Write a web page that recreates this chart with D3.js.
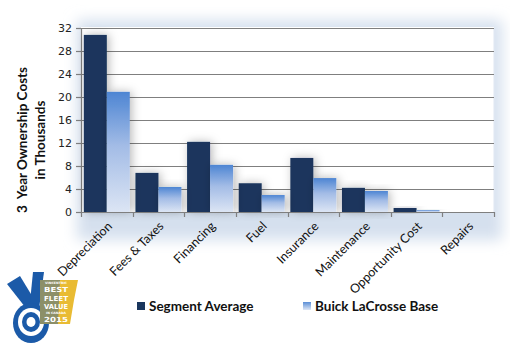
<!DOCTYPE html>
<html><head><meta charset="utf-8">
<script src="https://cdn.jsdelivr.net/npm/d3@7"></script>
<style>html,body{margin:0;padding:0;background:#fff;}svg{display:block;}</style>
</head><body>
<svg id="c" width="510" height="350"></svg>
<script>
const categories = ["Depreciation","Fees & Taxes","Financing","Fuel","Insurance","Maintenance","Opportunity Cost","Repairs"];
const segmentAverage = [30.8, 6.8, 12.2, 5.0, 9.4, 4.2, 0.7, 0];
const buickLaCrosse = [20.9, 4.35, 8.2, 2.95, 5.9, 3.65, 0.35, 0];
const yTicks = [0,4,8,12,16,20,24,28,32];
const seriesNames = ["Segment Average","Buick LaCrosse Base"];

const svg = d3.select("#c");
const defs = svg.append("defs");
const grad = defs.append("linearGradient").attr("id","lg").attr("x1",0).attr("y1",0).attr("x2",0).attr("y2",1);
grad.append("stop").attr("offset","0%").attr("stop-color","#4d85d3");
grad.append("stop").attr("offset","45%").attr("stop-color","#a3bce6");
grad.append("stop").attr("offset","100%").attr("stop-color","#dce5f4");
const lgLeg = defs.append("linearGradient").attr("id","lgl").attr("x1",0).attr("y1",0).attr("x2",0).attr("y2",1);
lgLeg.append("stop").attr("offset","0%").attr("stop-color","#5a8ed6");
lgLeg.append("stop").attr("offset","100%").attr("stop-color","#dfe7f5");
const glow = defs.append("filter").attr("id","glow").attr("x","-20%").attr("y","-30%").attr("width","140%").attr("height","160%");
glow.append("feGaussianBlur").attr("stdDeviation",7);
const bs = defs.append("filter").attr("id","bs").attr("x","-60%").attr("y","-30%").attr("width","220%").attr("height","160%");
bs.append("feDropShadow").attr("dx",2).attr("dy",0).attr("stdDeviation",5).attr("flood-color","#000").attr("flood-opacity",0.28);

const L=81, R=494, T=28, B=212;
const x = d3.scaleBand().domain(categories).range([L,R]).padding(0);
const y = d3.scaleLinear().domain([0,32]).range([B,T]);
const bw = x.bandwidth()*0.445;
const off = (x.bandwidth()-2*bw)/2;

// plot area glow
svg.append("rect").attr("x",L-4).attr("y",T-8).attr("width",R-L+12).attr("height",B-T+36)
  .attr("fill","#d5e0ee").attr("filter","url(#glow)");
svg.append("rect").attr("x",L).attr("y",T-1).attr("width",R-L).attr("height",B-T+1).attr("fill","#fff");
svg.append("line").attr("x1",R+0.5).attr("x2",R+0.5).attr("y1",T).attr("y2",B+6).attr("stroke","#dfe7f2").attr("stroke-width",2);

// gridlines
svg.append("g").selectAll("line").data(yTicks.filter(d=>d>0)).join("line")
  .attr("x1",L-5).attr("x2",R).attr("y1",d=>Math.round(y(d))+0.5).attr("y2",d=>Math.round(y(d))+0.5)
  .attr("stroke","#7f7f7f").attr("stroke-width",1.2);

// y axis
const ya = svg.append("g").attr("transform",`translate(${L},0)`)
  .call(d3.axisLeft(y).tickValues(yTicks).tickSize(5).tickPadding(4));
ya.select(".domain").attr("stroke","#7f7f7f").attr("stroke-width",1.2);
ya.selectAll(".tick line").attr("stroke","#7f7f7f").attr("stroke-width",1.2);
ya.selectAll("text").attr("font-family","DejaVu Sans").attr("font-size",11).attr("fill","#222");

// bars
const g = svg.append("g");
g.selectAll("rect.s1").data(categories).join("rect").attr("class","s1")
  .attr("x",d=>x(d)+off).attr("width",bw)
  .attr("y",(d,i)=>y(segmentAverage[i])).attr("height",(d,i)=>B-y(segmentAverage[i]))
  .attr("fill","#1a365d").attr("filter",(d,i)=>segmentAverage[i]>0?"url(#bs)":null);
g.selectAll("rect.s2").data(categories).join("rect").attr("class","s2")
  .attr("x",d=>x(d)+off+bw).attr("width",bw)
  .attr("y",(d,i)=>y(buickLaCrosse[i])).attr("height",(d,i)=>B-y(buickLaCrosse[i]))
  .attr("fill","url(#lg)").attr("filter",(d,i)=>buickLaCrosse[i]>0?"url(#bs)":null);

// x axis
const xa = svg.append("g").attr("transform",`translate(0,${B})`);
xa.append("line").attr("x1",L).attr("x2",R).attr("y1",0.5).attr("y2",0.5).attr("stroke","#7f7f7f").attr("stroke-width",1.2);
const bounds = categories.map(c=>x(c)).concat([R]);
xa.selectAll("line.t").data(bounds).join("line").attr("class","t")
  .attr("x1",d=>Math.round(d)+0.5).attr("x2",d=>Math.round(d)+0.5).attr("y1",0).attr("y2",5)
  .attr("stroke","#7f7f7f").attr("stroke-width",1.2);
xa.selectAll("text").data(categories).join("text")
  .attr("transform",d=>`translate(${x(d)+x.bandwidth()/2+6},${15}) rotate(-45)`)
  .attr("text-anchor","end").attr("font-family","Lato").attr("font-size",12.5).attr("fill","#111")
  .text(d=>d);

// y title
const yt = svg.append("text").attr("transform","translate(29,140) rotate(-90)")
  .attr("text-anchor","middle").attr("font-family","Lato").attr("font-weight","bold").attr("font-size",13.5).attr("fill","#111");
yt.append("tspan").attr("x",0).attr("dy","-0.15em").style("white-space","pre").text("3  Year Ownership Costs");
yt.append("tspan").attr("x",0).attr("dy","1.3em").text("in Thousands");

// legend
const leg = svg.append("g");
const legX = [137,303];
seriesNames.forEach((n,i)=>{
  leg.append("rect").attr("x",legX[i]).attr("y",302).attr("width",8).attr("height",8)
    .attr("fill",i===0?"#1a365d":"url(#lgl)");
  leg.append("text").attr("x",legX[i]+12).attr("y",311).attr("font-family","Lato").attr("font-weight","bold")
    .attr("font-size",13.5).attr("fill","#111").text(n);
});

// logo badge
const lg = svg.append("g");
lg.append("path").attr("d","M7,284 L20,276 L37,304 L29,312 Z").attr("fill","#1b5aa8");
lg.append("path").attr("d","M29,312 L33,272 L44,272 L39,309 Z").attr("fill","#1b5aa8");
lg.append("ellipse").attr("cx",31).attr("cy",323).attr("rx",18).attr("ry",20).attr("fill","#1b5aa8");
lg.append("ellipse").attr("cx",31).attr("cy",322).attr("rx",13).attr("ry",14).attr("fill","#fff");
lg.append("ellipse").attr("cx",31).attr("cy",322).attr("rx",9).attr("ry",10).attr("fill","#1b5aa8");
lg.append("ellipse").attr("cx",31).attr("cy",322).attr("rx",4.5).attr("ry",5).attr("fill","#fff");
lg.append("path").attr("d","M40,280 L78,280 L74,300 L70,324 L40,324 Z").attr("fill","#e9bb33");
lg.append("path").attr("d","M40,280 L60,280 L58,324 L40,324 Z").attr("fill","#1b5aa8").attr("opacity",0.45);
const lt = [["VINCENTRIC",284,3,22],["BEST",292,7,24],["FLEET",300.5,7,24],["VALUE",309,7,24],["IN CANADA",313.5,3,20],["2015",321.5,7,24]];
lt.forEach(t=>lg.append("text").attr("x",56).attr("y",t[1]).attr("text-anchor","middle")
  .attr("font-family","DejaVu Sans").attr("font-weight","bold").attr("font-size",t[2])
  .attr("textLength",t[3]).attr("lengthAdjust","spacingAndGlyphs").attr("fill","#fff").text(t[0]));
</script>
</body></html>
